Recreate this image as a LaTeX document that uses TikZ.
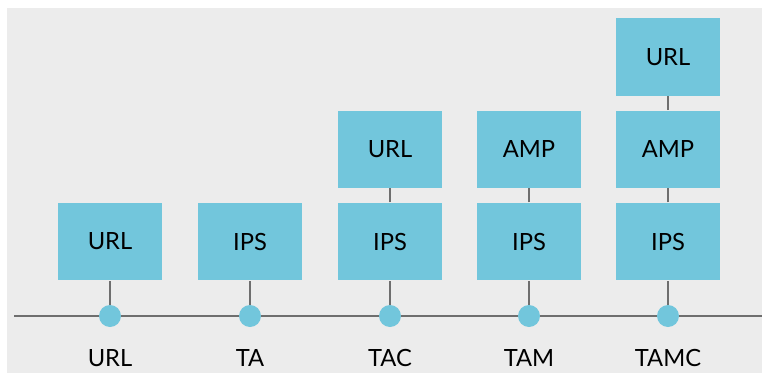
\documentclass[tikz,border=0pt]{standalone}
\usepackage{fontspec}
\setmainfont{Lato}
\usetikzlibrary{positioning}

\definecolor{boxblue}{HTML}{72C6DC}
\definecolor{bggray}{HTML}{ECECEC}
\definecolor{linegray}{HTML}{6E6E6E}

\tikzset{
  stackbox/.style={rectangle, fill=boxblue, minimum width=2.08cm, minimum height=1.55cm, inner sep=0pt, font=\fontsize{13.5}{16}\selectfont},
  portdot/.style={circle, fill=boxblue, minimum size=0.44cm, inner sep=0pt},
  caption/.style={font=\fontsize{13.5}{16}\selectfont},
  wire/.style={draw=linegray, line width=0.04cm}
}

\begin{document}
\begin{tikzpicture}[x=0.02cm, y=-0.02cm]

\useasboundingbox (0,0) rectangle (762,373);
\fill[bggray] (7,8) rectangle (762,373);

% base line
\coordinate (lstart) at (14,316);
\coordinate (lend)   at (762,316);
\draw[wire] (lstart) -- (lend);

% bottom row
\node (ipsA) at (110,241.5) [stackbox] {URL};
\node (ipsB) at (250,241.5) [stackbox] {IPS};
\node (ipsC) at (390,241.5) [stackbox] {IPS};
\node (ipsD) at (529,241.5) [stackbox] {IPS};
\node (ipsE) at (668,241.5) [stackbox] {IPS};

% upper rows
\node (urlC) [stackbox, above=0.28cm of ipsC] {URL};
\node (ampD) [stackbox, above=0.28cm of ipsD] {AMP};
\node (ampE) [stackbox, above=0.28cm of ipsE] {AMP};
\node (urlE) [stackbox, above=0.28cm of ampE] {URL};

\draw[wire] (ipsC) -- (urlC);
\draw[wire] (ipsD) -- (ampD);
\draw[wire] (ipsE) -- (ampE);
\draw[wire] (ampE) -- (urlE);

% dots on the line
\draw[wire] (110,316) -- (ipsA);
\draw[wire] (250,316) -- (ipsB);
\draw[wire] (390,316) -- (ipsC);
\draw[wire] (529,316) -- (ipsD);
\draw[wire] (668,316) -- (ipsE);

\node (dotA) at (110,316) [portdot] {};
\node (dotB) at (250,316) [portdot] {};
\node (dotC) at (390,316) [portdot] {};
\node (dotD) at (529,316) [portdot] {};
\node (dotE) at (668,316) [portdot] {};

% captions
\node (capA) at (110,358) [caption] {URL};
\node (capB) at (250,358) [caption] {TA};
\node (capC) at (390,358) [caption] {TAC};
\node (capD) at (529,358) [caption] {TAM};
\node (capE) at (668,358) [caption] {TAMC};

\end{tikzpicture}
\end{document}
